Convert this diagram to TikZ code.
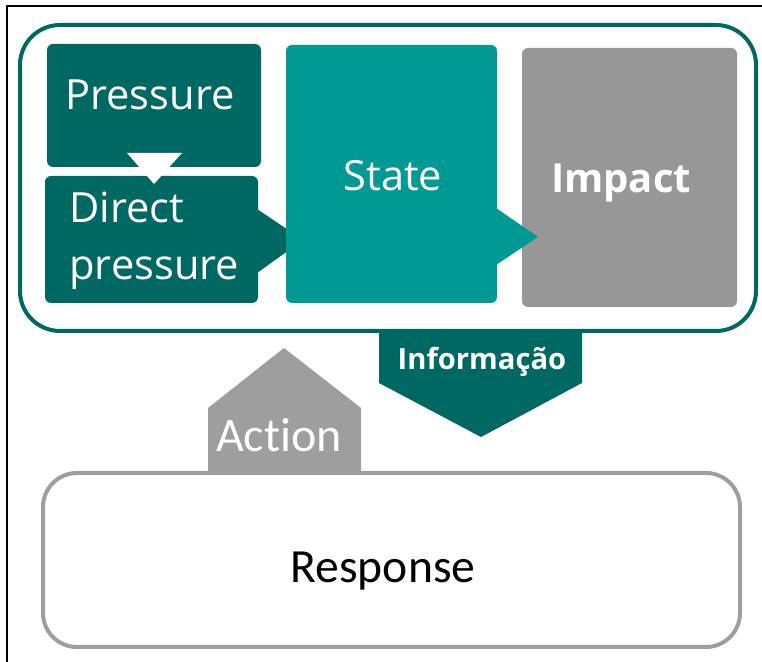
\documentclass[tikz,border=0pt]{standalone}
\usepackage{fontspec}
\setmainfont{Open Sans}
\newfontfamily\calib[Ligatures=NoCommon]{Carlito}
\usetikzlibrary{positioning}

\definecolor{tealD}{RGB}{0,104,99}
\definecolor{tealL}{RGB}{0,153,148}
\definecolor{grigio}{RGB}{151,151,151}
\definecolor{grigioB}{RGB}{158,158,158}

\begin{document}
\begin{tikzpicture}[x=0.5pt, y=-0.5pt, line join=round,
    txt/.style={text=white, inner sep=0pt, font=\fontsize{20.8}{25}\selectfont},
    blocco/.style={rounded corners=3pt}]

\useasboundingbox (0,0) rectangle (762,662);

% Cornice
\draw[line width=0.8pt] (7,662) -- (7,6) -- (762,6);

% Contenitore
\draw[tealD, line width=2pt, rounded corners=20pt] (20,25) rectangle (756,331);

% Blocchi
\fill[tealD, blocco] (47,44) rectangle (261,167);
\fill[tealD, blocco] (45,176) rectangle (258,303);
\fill[tealD] (257,209) -- (303,240) -- (257,273) -- cycle;
\fill[white] (127,153) -- (182,153) -- (154,184) -- cycle;

\fill[tealL, blocco] (286,45) rectangle (497,303);
\fill[grigio, blocco] (522,48) rectangle (737,307);
\fill[tealL] (496,208) -- (538,237) -- (496,265) -- cycle;

% Frecce grandi
\fill[tealD] (379,333) -- (582,333) -- (582,383) -- (481,437) -- (379,383) -- cycle;
\fill[grigioB] (208,474) -- (208,408) -- (284,348) -- (361,408) -- (361,474) -- cycle;

% Risposta
\draw[grigioB, line width=2pt, rounded corners=17pt] (43,473) rectangle (740,647);

% Etichette
\node[txt, anchor=base] (pres) at (150,110) {Pressure};
\node[txt, anchor=base west] (dir) at (69,223) {Direct};
\node[txt, anchor=base west] (dirp) at (69,280) {pressure};
\node[txt, anchor=base] (state) at (393,191) {State};
\node[txt, anchor=base, font=\fontsize{20}{24}\selectfont\bfseries] (imp) at (621,193) {Impact};
\node[txt, anchor=base, font=\fontsize{14.6}{17}\selectfont\bfseries] (info) at (482,370) {Informação};
\node[txt, anchor=base, font=\calib\fontsize{24}{28}\selectfont] (act) at (279,452) {Action};
\node[anchor=base, inner sep=0pt, font=\calib\fontsize{23.8}{28}\selectfont] (resp) at (383,583) {Response};

\end{tikzpicture}
\end{document}
